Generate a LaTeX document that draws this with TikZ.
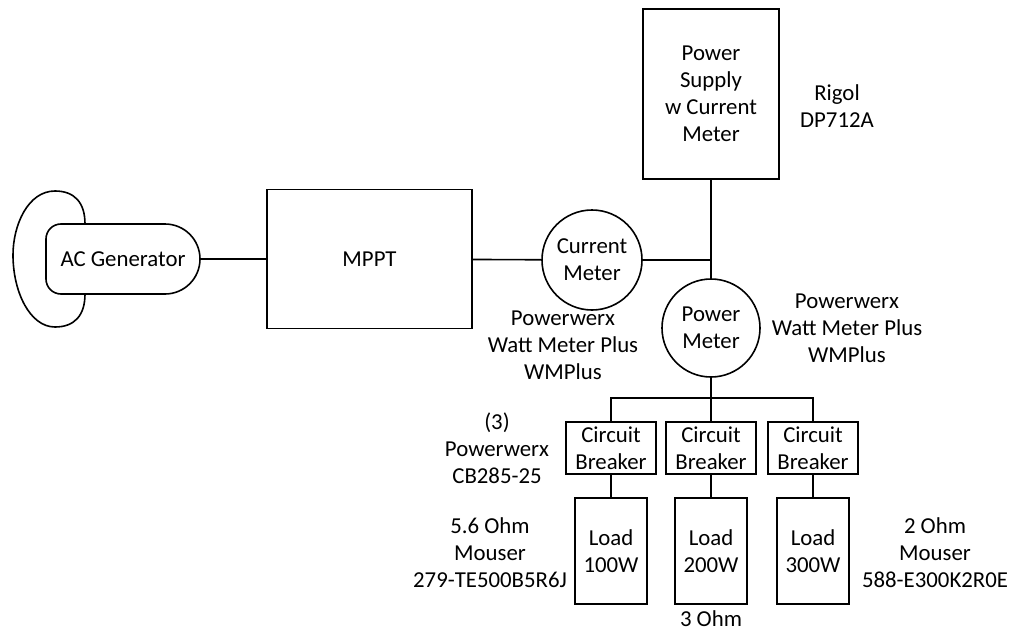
\documentclass[tikz,border=0pt]{standalone}
\usepackage{fontspec}
\setmainfont{Carlito}
\usepackage{tikz}
\usetikzlibrary{calc}
\tikzstyle{block} = [rectangle, draw=black, line width=0.8pt, text centered, align=center, inner sep=1pt]
\tikzstyle{meter} = [circle, draw=black, line width=0.8pt, align=center, inner sep=0pt]
\tikzstyle{note} = [align=center, inner sep=0pt]
\tikzstyle{wire} = [line width=0.8pt]

\begin{document}
\begin{tikzpicture}[x=0.5pt, y=-0.5pt, font=\fontsize{11.4}{13.5}\selectfont]
	%% Page frame (pixel grid of the drawing, y going down)
	\useasboundingbox (0,0) rectangle (1011,631);

	%% Generator: outer lobe and rounded body
	\draw[wire] (85,224) .. controls (85,202) and (74,191) .. (55,191)
	  .. controls (28,191) and (13,225) .. (13,255)
	  .. controls (13,292) and (30,327) .. (55,327)
	  .. controls (74,327) and (85,316) .. (85,294);
	\draw[wire] (165,294) arc[start angle=-90, end angle=90, radius=17.5pt]
	  [rounded corners=7.5pt] -- (46,224) -- (46,294) -- (165,294);
	\node (gen) at (123,259) {AC Generator};
	\coordinate (genE) at (200,259);

	%% Main blocks
	\node[block, minimum width=102.5pt, minimum height=69.5pt] (mppt) at (369.5,259) {MPPT};
	\node[meter, minimum size=50pt] (cmeter) at (592,260) {Current\\Meter};
	\node[block, minimum width=68pt, minimum height=85pt] (psu) at (711,94) {Power\\Supply\\w Current\\Meter};
	\node[meter, minimum size=49pt] (pmeter) at (711,328) {Power\\Meter};

	\coordinate (jn) at (711,260); % tee point
	\coordinate (br) at (711,398); % branch to the breakers

	%% Breakers and loads
	\foreach \i/\x/\w in {1/611/100W, 2/711/200W, 3/813/300W}
	{
	  \node[block, minimum width=45pt, minimum height=26pt] (cb\i) at (\x,448) {Circuit\\Breaker};
	  \node[block, minimum width=36pt, minimum height=53pt] (ld\i) at (\x,551) {Load\\\w};
	  \draw[wire] (cb\i) -- (ld\i);
	}

	%% Wiring
	\draw[wire] (genE) -- (mppt);
	\draw[wire] (mppt) -- (cmeter);
	\draw[wire] (cmeter) -- (jn);
	\draw[wire] (psu) -- (jn) -- (pmeter);
	\draw[wire] (pmeter) -- (br);
	\draw[wire] (cb1.north) |- (br) -| (cb3.north);
	\draw[wire] (br) -- (cb2.north);

	%% Part numbers
	\node[note] (rigol) at (837,106) {Rigol\\DP712A};
	\node[note] (wmA) at (563,345) {Powerwerx\\Watt Meter Plus\\WMPlus};
	\node[note] (wmB) at (847,328) {Powerwerx\\Watt Meter Plus\\WMPlus};
	\node[note] (cbnote) at (497,448) {(3)\\Powerwerx\\CB285-25};
	\node[note] (resA) at (490,553) {5.6 Ohm\\Mouser\\279-TE500B5R6J};
	\node[note] (resB) at (711,619) {3 Ohm};
	\node[note] (resC) at (935,553) {2 Ohm\\Mouser\\588-E300K2R0E};
\end{tikzpicture}
\end{document}
